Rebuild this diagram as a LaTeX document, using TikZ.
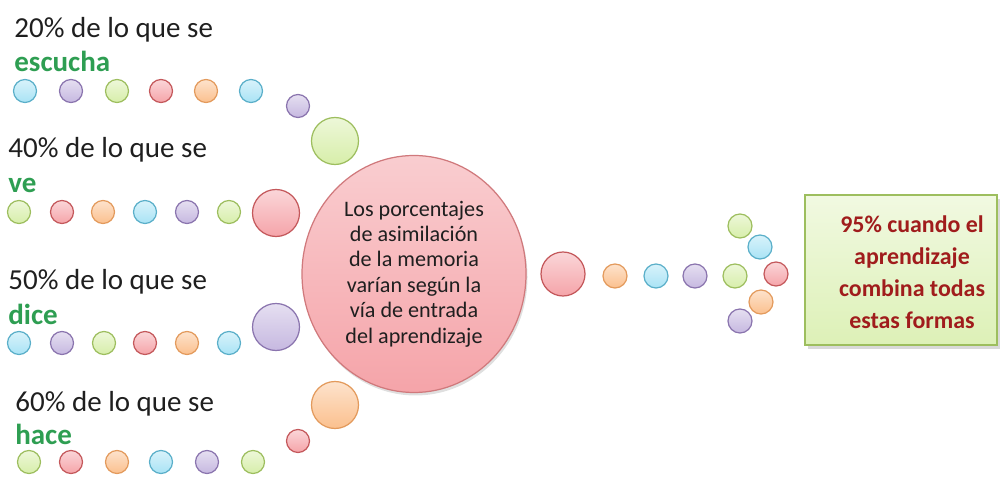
\documentclass[tikz,border=0pt]{standalone}
\usepackage{fontspec}
\setmainfont{Carlito}
\usetikzlibrary{shapes.geometric,shadows}

\definecolor{azulF}{HTML}{A9E3F5}
\definecolor{azulB}{HTML}{5AAFC9}
\definecolor{moraF}{HTML}{C6B8E0}
\definecolor{moraB}{HTML}{8A74AE}
\definecolor{verdeF}{HTML}{D7EEAA}
\definecolor{verdeB}{HTML}{9DBE5E}
\definecolor{rojoF}{HTML}{F5A4A9}
\definecolor{rojoB}{HTML}{C4585B}
\definecolor{naranF}{HTML}{FBC08E}
\definecolor{naranB}{HTML}{E39A5C}
\definecolor{verdeTxt}{HTML}{2E9E52}
\definecolor{rojoTxt}{HTML}{A01C1C}

\tikzset{
  bola/.style={circle, inner sep=0pt, line width=0.7pt, minimum size=0.46cm},
  grande/.style={bola, minimum size=0.94cm},
  azul/.style={bola, draw=azulB, top color=azulF!45!white, bottom color=azulF},
  mora/.style={bola, draw=moraB, top color=moraF!45!white, bottom color=moraF},
  verde/.style={bola, draw=verdeB, top color=verdeF!45!white, bottom color=verdeF},
  rojo/.style={bola, draw=rojoB, top color=rojoF!45!white, bottom color=rojoF},
  naran/.style={bola, draw=naranB, top color=naranF!45!white, bottom color=naranF},
  etiq/.style={anchor=base west, inner sep=0pt, font=\fontsize{16.5}{19}\selectfont, text=black!88},
  via/.style={anchor=base west, inner sep=0pt, font=\fontsize{16.5}{19}\selectfont\bfseries, text=verdeTxt},
}

\begin{document}
\begin{tikzpicture}[x=0.2mm, y=-0.2mm]
    \useasboundingbox (0,0) rectangle (1003,479) ;

    % escucha
    \node[etiq] at (14,38) (t20) {20\% de lo que se} ;
    \node[via] at (14,72) (v20) {escucha} ;
    \node[azul] at (25,91) (e1) {} ;
    \node[mora] at (71,91) (e2) {} ;
    \node[verde] at (117,91) (e3) {} ;
    \node[rojo] at (161,91) (e4) {} ;
    \node[naran] at (206,91) (e5) {} ;
    \node[azul] at (251,91) (e6) {} ;
    \node[mora] at (298,106) (e7) {} ;
    \node[verde, grande] at (335,141) (e8) {} ;

    % ve
    \node[etiq] at (8,158) (t40) {40\% de lo que se} ;
    \node[via] at (8,193) (v40) {ve} ;
    \node[verde] at (19,212) (r1) {} ;
    \node[rojo] at (62,212) (r2) {} ;
    \node[naran] at (103,212) (r3) {} ;
    \node[azul] at (145,212) (r4) {} ;
    \node[mora] at (187,212) (r5) {} ;
    \node[verde] at (229,212) (r6) {} ;
    \node[rojo, grande] at (276,213) (r7) {} ;

    % dice
    \node[etiq] at (8,290) (t50) {50\% de lo que se} ;
    \node[via] at (8,325) (v50) {dice} ;
    \node[azul] at (19,343) (d1) {} ;
    \node[mora] at (62,343) (d2) {} ;
    \node[verde] at (104,343) (d3) {} ;
    \node[rojo] at (145,343) (d4) {} ;
    \node[naran] at (187,343) (d5) {} ;
    \node[azul] at (229,343) (d6) {} ;
    \node[mora, grande] at (276,327) (d7) {} ;

    % hace
    \node[etiq] at (15,412) (t60) {60\% de lo que se} ;
    \node[via] at (15,445) (v60) {hace} ;
    \node[verde] at (29,462) (h1) {} ;
    \node[rojo] at (71,462) (h2) {} ;
    \node[naran] at (117,462) (h3) {} ;
    \node[azul] at (161,462) (h4) {} ;
    \node[mora] at (207,462) (h5) {} ;
    \node[verde] at (253,462) (h6) {} ;
    \node[rojo] at (298,441) (h7) {} ;
    \node[naran, grande] at (335,405) (h8) {} ;

    % centro
    \node[ellipse, minimum width=4.48cm, minimum height=4.74cm, inner sep=0pt,
          draw=rojoB!80, line width=0.7pt, top color=rojoF!55!white, bottom color=rojoF,
          drop shadow={opacity=0.25, shadow xshift=0.3mm, shadow yshift=-0.6mm},
          align=center, font=\fontsize{12.6}{14.5}\selectfont, text=black!88]
          at (414,274) (centro) {Los porcentajes\\de asimilación\\de la memoria\\varían según la\\vía de entrada\\del aprendizaje} ;

    % flecha de bolas
    \node[rojo, minimum size=0.88cm] at (563,274) (f1) {} ;
    \node[naran, minimum size=0.48cm] at (615,276) (f2) {} ;
    \node[azul, minimum size=0.48cm] at (656,276) (f3) {} ;
    \node[mora, minimum size=0.48cm] at (695,276) (f4) {} ;
    \node[verde, minimum size=0.48cm] at (740,226) (p1) {} ;
    \node[azul, minimum size=0.48cm] at (760,247) (p2) {} ;
    \node[verde, minimum size=0.48cm] at (735,276) (p3) {} ;
    \node[rojo, minimum size=0.48cm] at (776,274) (p4) {} ;
    \node[naran, minimum size=0.48cm] at (761,302) (p5) {} ;
    \node[mora, minimum size=0.48cm] at (740,321) (p6) {} ;

    % resultado
    \node[rectangle, minimum width=3.84cm, minimum height=3.0cm, draw=verdeB, line width=0.7pt,
          top color=verdeF!35!white, bottom color=verdeF!85,
          drop shadow={opacity=0.3, shadow xshift=0.6mm, shadow yshift=-0.8mm}]
          at (901,270) (caja) {} ;
    \node[align=center, font=\fontsize{13.6}{18.2}\selectfont\bfseries, text=rojoTxt]
          at (912,272) (res) {95\% cuando el\\aprendizaje\\combina todas\\estas formas} ;
  \end{tikzpicture}
\end{document}
